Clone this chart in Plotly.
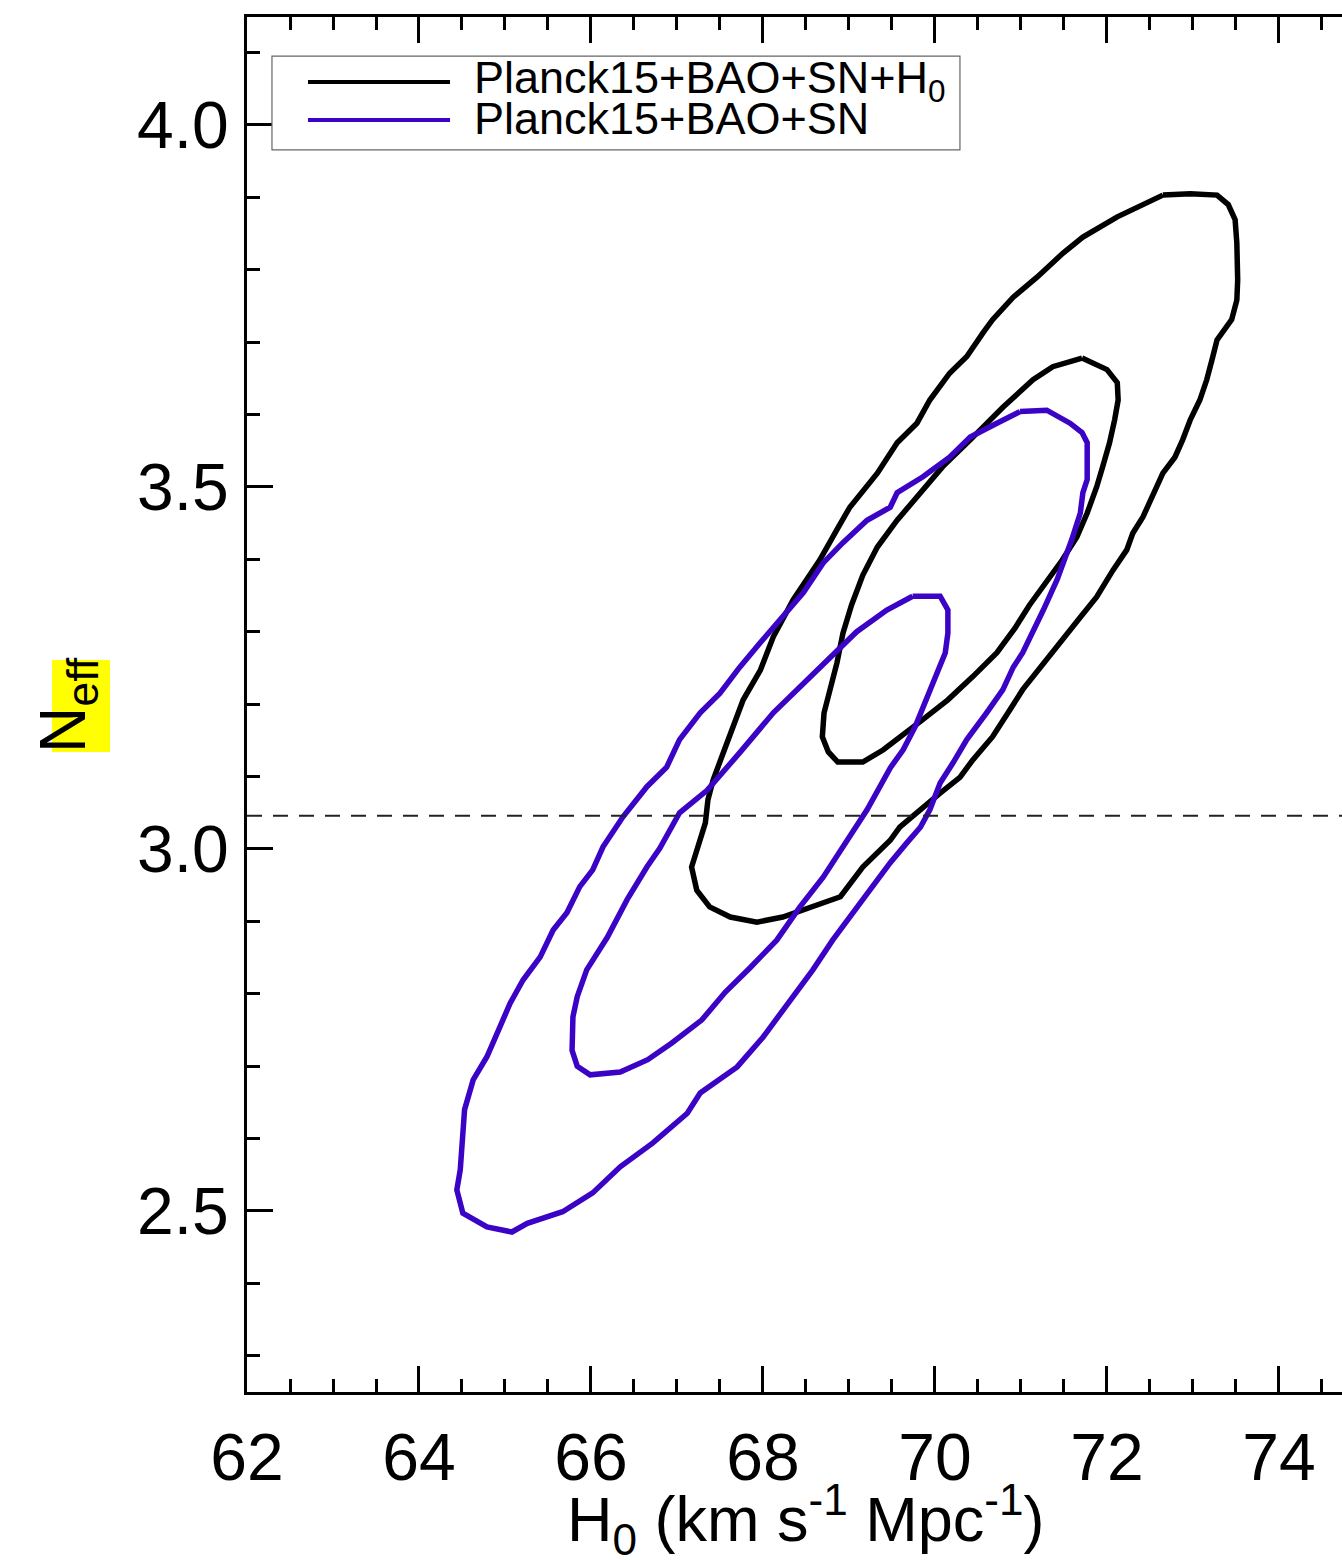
import plotly.graph_objects as go

# Confidence contours in the (H0, Neff) plane (68% and 95% regions)
# Planck15+BAO+SN+H0
h0_p15_h0_95 = [72.65, 72.97, 73.28, 73.41, 73.49, 73.51, 73.52, 73.51, 73.45, 73.28,
                73.22, 73.16, 73.08, 72.97, 72.88, 72.79, 72.65, 72.53, 72.42, 72.30,
                72.23, 72.07, 71.88, 71.69, 71.42, 71.22, 71.02, 70.87, 70.67, 70.44,
                70.29, 70.06, 69.83, 69.59, 69.48, 69.16, 68.90, 68.55, 68.23, 67.93,
                67.62, 67.38, 67.23, 67.17, 67.27, 67.33, 67.36, 67.42, 67.52, 67.65,
                67.77, 67.97, 68.12, 68.35, 68.66, 68.86, 69.01, 69.33, 69.56, 69.79,
                69.94, 70.17, 70.37, 70.56, 70.67, 70.91, 71.19, 71.49, 71.72, 72.12,
                72.65]
neff_p15_h0_95 = [3.903, 3.905, 3.903, 3.890, 3.869, 3.837, 3.786, 3.758, 3.731, 3.703,
                  3.675, 3.648, 3.620, 3.593, 3.565, 3.541, 3.519, 3.486, 3.459, 3.436,
                  3.413, 3.385, 3.348, 3.320, 3.279, 3.251, 3.220, 3.192, 3.155, 3.123,
                  3.099, 3.077, 3.054, 3.030, 3.012, 2.975, 2.934, 2.920, 2.906, 2.899,
                  2.906, 2.920, 2.943, 2.975, 3.012, 3.036, 3.068, 3.095, 3.127, 3.169,
                  3.206, 3.247, 3.293, 3.344, 3.399, 3.441, 3.472, 3.519, 3.561, 3.588,
                  3.620, 3.657, 3.680, 3.713, 3.731, 3.762, 3.790, 3.823, 3.845, 3.873,
                  3.903]

h0_p15_h0_68 = [71.71, 72.00, 72.12, 72.13, 72.09, 72.03, 71.95, 71.88, 71.77, 71.65,
                71.48, 71.28, 71.10, 70.93, 70.72, 70.44, 70.15, 69.85, 69.59, 69.40,
                69.16, 68.87, 68.76, 68.69, 68.71, 68.78, 68.86, 68.93, 69.03, 69.16,
                69.33, 69.56, 69.79, 70.09, 70.41, 70.79, 71.14, 71.37, 71.71]
neff_p15_h0_68 = [3.678, 3.662, 3.644, 3.620, 3.593, 3.561, 3.528, 3.500, 3.464, 3.431,
                  3.399, 3.367, 3.337, 3.305, 3.271, 3.238, 3.206, 3.178, 3.155, 3.137,
                  3.120, 3.120, 3.134, 3.155, 3.188, 3.220, 3.257, 3.298, 3.337, 3.378,
                  3.417, 3.454, 3.486, 3.528, 3.565, 3.610, 3.648, 3.666, 3.678]

# Planck15+BAO+SN
h0_p15_95 = [70.99, 71.30, 71.57, 71.71, 71.77, 71.77, 71.72, 71.69, 71.59, 71.49,
             71.42, 71.26, 71.10, 71.02, 70.91, 70.79, 70.60, 70.37, 70.21, 70.06,
             69.94, 69.83, 69.67, 69.48, 69.16, 68.81, 68.58, 68.31, 68.00, 67.70,
             67.27, 67.12, 66.72, 66.34, 66.02, 65.67, 65.26, 65.08, 64.79, 64.51,
             64.44, 64.48, 64.50, 64.53, 64.63, 64.79, 64.94, 65.06, 65.21, 65.41,
             65.56, 65.72, 65.87, 66.02, 66.14, 66.37, 66.65, 66.88, 67.03, 67.27,
             67.50, 67.73, 67.97, 68.23, 68.47, 68.70, 68.93, 69.21, 69.48, 69.56,
             69.86, 70.17, 70.41, 70.72, 70.99]
neff_p15_95 = [3.604, 3.606, 3.588, 3.575, 3.561, 3.510, 3.492, 3.464, 3.427, 3.395,
               3.372, 3.330, 3.293, 3.271, 3.251, 3.220, 3.188, 3.151, 3.119, 3.091,
               3.054, 3.030, 3.008, 2.981, 2.930, 2.874, 2.833, 2.791, 2.740, 2.699,
               2.663, 2.635, 2.594, 2.561, 2.525, 2.499, 2.483, 2.471, 2.478, 2.497,
               2.529, 2.557, 2.594, 2.640, 2.681, 2.713, 2.754, 2.787, 2.819, 2.851,
               2.888, 2.912, 2.948, 2.971, 3.003, 3.044, 3.086, 3.113, 3.151, 3.188,
               3.215, 3.251, 3.285, 3.320, 3.354, 3.395, 3.423, 3.454, 3.472, 3.492,
               3.514, 3.541, 3.569, 3.588, 3.604]

h0_p15_68 = [69.74, 70.06, 70.15, 70.15, 70.12, 70.02, 69.91, 69.77, 69.63, 69.48,
             69.21, 68.93, 68.70, 68.43, 68.16, 67.85, 67.56, 67.29, 66.94, 66.66,
             66.34, 65.99, 65.84, 65.78, 65.79, 65.84, 65.95, 66.19, 66.42, 66.65,
             66.80, 67.03, 67.35, 67.73, 68.12, 68.51, 68.78, 69.09, 69.44, 69.74]
neff_p15_68 = [3.349, 3.349, 3.330, 3.298, 3.271, 3.243, 3.210, 3.169, 3.137, 3.112,
               3.054, 3.003, 2.961, 2.920, 2.874, 2.836, 2.802, 2.764, 2.732, 2.709,
               2.692, 2.688, 2.700, 2.722, 2.768, 2.796, 2.833, 2.878, 2.930, 2.975,
               3.001, 3.050, 3.081, 3.133, 3.188, 3.233, 3.265, 3.300, 3.330, 3.349]

# Standard-model value of Neff
neff_standard = 3.046

series_names = ["Planck15+BAO+SN+H<sub>0</sub>", "Planck15+BAO+SN"]
series_colors = ["#000000", "#3a03c6"]

x_range = [62.0, 74.733]
y_range = [2.25, 4.149]

FONT = "Liberation Sans, Arial, Helvetica, sans-serif"

fig = go.Figure()

contours = [
    (h0_p15_h0_95, neff_p15_h0_95, 0),
    (h0_p15_h0_68, neff_p15_h0_68, 0),
    (h0_p15_95, neff_p15_95, 1),
    (h0_p15_68, neff_p15_68, 1),
]
for xs, ys, k in contours:
    fig.add_trace(go.Scatter(
        x=xs, y=ys, mode="lines",
        line=dict(color=series_colors[k], width=5.5),
        showlegend=False, hoverinfo="skip",
    ))

# Horizontal reference line at the standard Neff
fig.add_shape(type="line", xref="paper", yref="y",
              x0=0, x1=1, y0=neff_standard, y1=neff_standard,
              line=dict(color="#222222", width=2, dash="15px,11px"))

# Yellow highlight behind the y-axis title
fig.add_shape(type="rect", xref="paper", yref="paper",
              x0=-0.1781, x1=-0.1251, y0=0.4655, y1=0.5324,
              fillcolor="#ffff00", line=dict(width=0), layer="below")

# Hand-drawn legend box
fig.add_shape(type="rect", xref="paper", yref="paper",
              x0=0.0228, x1=0.6511, y0=0.9033, y1=0.9716,
              fillcolor="white", line=dict(color="#666666", width=1.2))
legend_rows_y = [0.9527, 0.9251]
for k in range(2):
    fig.add_shape(type="line", xref="paper", yref="paper",
                  x0=0.0557, x1=0.1854, y0=legend_rows_y[k], y1=legend_rows_y[k],
                  line=dict(color=series_colors[k], width=4))
    fig.add_annotation(xref="paper", yref="paper", x=0.2055, y=legend_rows_y[k] + 0.001,
                       xanchor="left", yanchor="middle", showarrow=False,
                       text=series_names[k],
                       font=dict(family=FONT, size=45, color="black"))

# Axis titles
fig.add_annotation(xref="paper", yref="paper", x=0.5105, y=-0.093,
                   xanchor="center", yanchor="middle", showarrow=False,
                   text="H<sub>0</sub> (km s<sup>-1</sup> Mpc<sup>-1</sup>)",
                   font=dict(family=FONT, size=63, color="black"))
fig.add_annotation(xref="paper", yref="paper", x=-0.1645, y=0.4996,
                   xanchor="center", yanchor="middle", showarrow=False,
                   textangle=-90, text="N<sub>eff</sub>",
                   font=dict(family=FONT, size=64, color="black"))

fig.update_xaxes(
    range=x_range, tickmode="linear", tick0=62, dtick=2,
    ticks="inside", ticklen=26, tickwidth=2.5, tickcolor="black",
    showline=True, linewidth=3, linecolor="black", mirror="ticks",
    showgrid=False, zeroline=False,
    tickfont=dict(family=FONT, size=66, color="black"),
    ticklabelstandoff=6,
    minor=dict(ticks="inside", ticklen=13, tickwidth=2.5, tickcolor="black",
               dtick=0.5, tick0=62, showgrid=False),
)
fig.update_yaxes(
    range=y_range, tickmode="linear", tick0=2.5, dtick=0.5, tickformat=".1f",
    ticks="inside", ticklen=26, tickwidth=2.5, tickcolor="black",
    showline=True, linewidth=3, linecolor="black", mirror=False,
    showgrid=False, zeroline=False,
    tickfont=dict(family=FONT, size=66, color="black"),
    ticklabelstandoff=2,
    minor=dict(ticks="inside", ticklen=13, tickwidth=2.5, tickcolor="black",
               dtick=0.1, tick0=2.5, showgrid=False),
)

fig.update_layout(
    width=1342, height=1560,
    margin=dict(l=247, r=0, t=17, b=168),
    paper_bgcolor="white", plot_bgcolor="white",
    showlegend=False,
    font=dict(family=FONT),
)

fig.write_html("out.html")
